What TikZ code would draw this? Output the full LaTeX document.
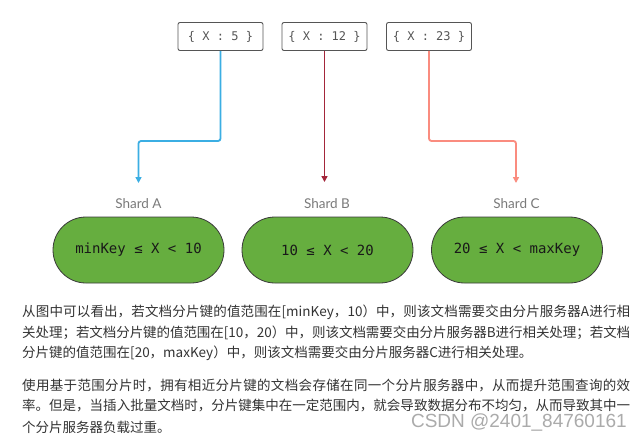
\documentclass[tikz,border=0pt]{standalone}
\usepackage{fontspec}
\setmainfont{Lato}
\setmonofont{DejaVu Sans Mono}
\newfontfamily\cjk{Noto Sans CJK SC}
\newfontfamily\wmfont{Liberation Sans}
\usetikzlibrary{arrows.meta}
\definecolor{arrA}{HTML}{3BAEE3}
\definecolor{arrB}{HTML}{A3263A}
\definecolor{arrC}{HTML}{FA8C7F}
\definecolor{pillgreen}{HTML}{66AE3F}
\definecolor{pillborder}{HTML}{3A3A3A}
\definecolor{boxgray}{HTML}{555555}
\definecolor{labgray}{HTML}{7A7A7A}
\definecolor{bodytext}{HTML}{333333}
\definecolor{wmgray}{HTML}{ABABAB}
\XeTeXlinebreaklocale "zh"
\XeTeXlinebreakskip=0pt plus 2pt minus 0.5pt
\newcommand\jline[1]{\parbox{608pt}{\parfillskip=0pt\relax\noindent #1}}
\tikzset{
  keybox/.style={draw=boxgray, line width=0.9pt, rounded corners=2pt, fill=white,
    minimum width=85pt, minimum height=28pt, inner sep=0pt,
    font=\fontsize{12}{14}\selectfont\ttfamily, text=boxgray},
  shardlab/.style={font=\fontsize{13.5}{16}\selectfont, text=labgray, inner sep=0pt},
  pill/.style={draw=pillborder, line width=0.8pt, fill=pillgreen, rounded corners=33pt,
    minimum width=171pt, minimum height=66pt, inner sep=0pt,
    font=\fontsize{14}{16}\selectfont\ttfamily, text=black!90},
  conn/.style={line width=1.8pt, rounded corners=2.5pt, -{Triangle[width=6pt,length=6pt]}},
  para/.style={anchor=west, inner sep=0pt, font=\fontsize{13.5}{16}\selectfont\cjk, text=bodytext},
  wm/.style={anchor=base east, inner sep=0pt, font=\fontsize{19}{22}\selectfont\wmfont, text=wmgray}
}
\begin{document}
\begin{tikzpicture}[x=1pt,y=-1pt]
\useasboundingbox (0,0) rectangle (642,439);
\fill[white] (0,0) rectangle (642,439);

% key boxes
\node[keybox] (k1) at (220.5,36.5) {\{ X : 5 \}};
\node[keybox] (k2) at (324.5,36.5) {\{ X : 12 \}};
\node[keybox] (k3) at (429,36.5) {\{ X : 23 \}};

% shard labels
\node[shardlab] (la) at (138.5,204) {Shard A};
\node[shardlab] (lb) at (327,204) {Shard B};
\node[shardlab] (lc) at (516.5,204) {Shard C};

% pills
\node[pill] (pa) at (138.5,250) {minKey ≤ X < 10};
\node[pill] (pb) at (327.5,250) {10 ≤ X < 20};
\node[pill] (pc) at (517,250) {20 ≤ X < maxKey};

% connector coordinates
\coordinate (mA) at (138.5,141);
\coordinate (eA) at (138.5,183);
\coordinate (eB) at (324.5,182);
\coordinate (mC) at (516,141);
\coordinate (eC) at (516,183);

\draw[conn, arrA] (k1.south) |- (mA) -- (eA);
\draw[conn, arrB] (k2.south) -- (eB);
\draw[conn, arrC] (k3.south) |- (mC) -- (eC);

% paragraph text
\node[para] (p1) at (22,312) {\jline{从图中可以看出，若文档分片键的值范围在[minKey，10）中，则该文档需要交由分片服务器A进行相}};
\node[para] (p2) at (22,333) {\jline{关处理；若文档分片键的值范围在[10，20）中，则该文档需要交由分片服务器B进行相关处理；若文档}};
\node[para] (p3) at (22,353) {分片键的值范围在[20，maxKey）中，则该文档需要交由分片服务器C进行相关处理。};

\node[para] (q1) at (22,385) {\jline{使用基于范围分片时，拥有相近分片键的文档会存储在同一个分片服务器中，从而提升范围查询的效}};
\node[para] (q2) at (22,405) {\jline{率。但是，当插入批量文档时，分片键集中在一定范围内，就会导致数据分布不均匀，从而导致其中一}};
\node[para] (q3) at (22,427) {个分片服务器负载过重。};

\node[wm] (wm) at (627,427) {CSDN @2401\_84760161};
\end{tikzpicture}
\end{document}
